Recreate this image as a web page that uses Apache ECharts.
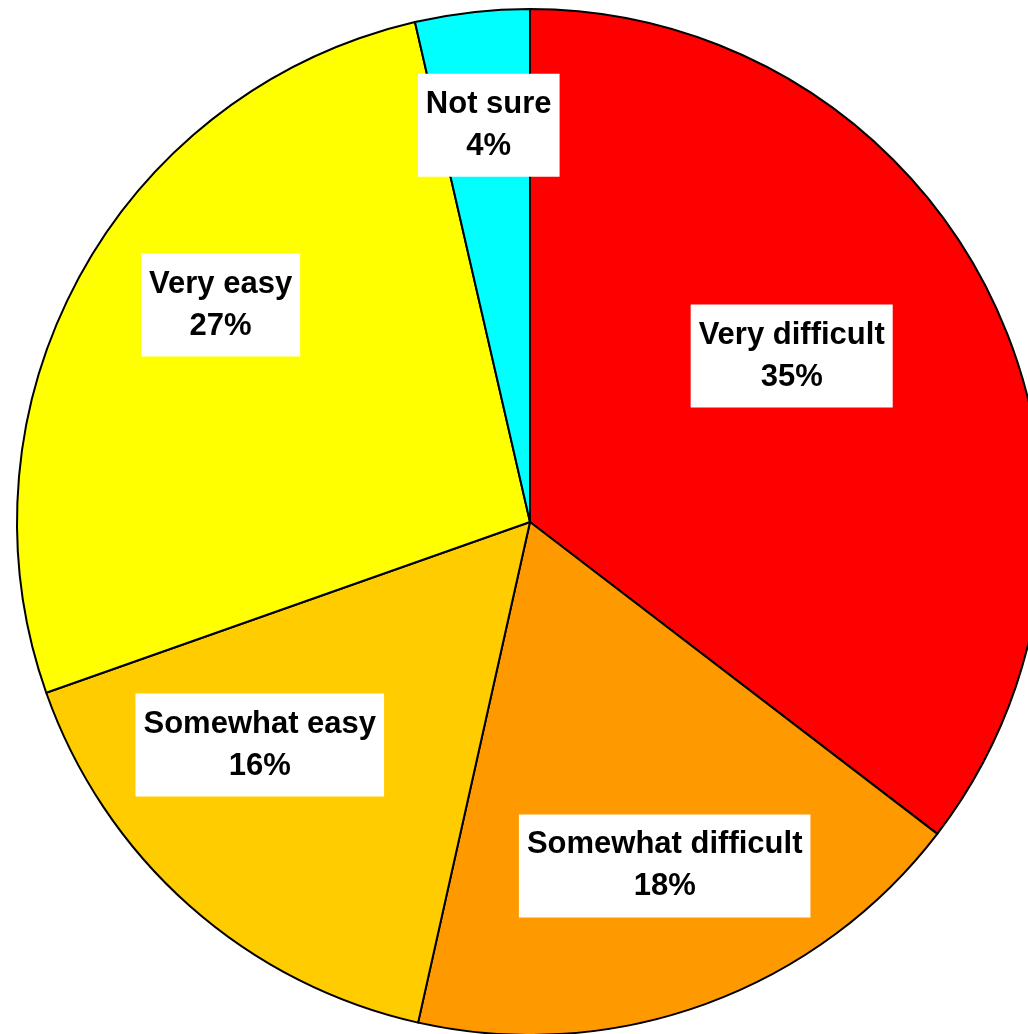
<!DOCTYPE html>
<html>
<head>
<meta charset="utf-8">
<script src="https://cdn.jsdelivr.net/npm/echarts@6/dist/echarts.min.js"></script>
<style>
    html, body { margin: 0; padding: 0; background: #fff; }
    #chart { width: 1028px; height: 1034px; }
</style>
</head>
<body>
<div id="chart"></div>
<script type="text/javascript">
    // answers, clockwise from 12 o'clock
    var categories = ['Very difficult', 'Somewhat difficult', 'Somewhat easy', 'Very easy', 'Not sure'];
    var shares = [35.4, 18.1, 16.1, 26.8, 3.6];
    var colors = ['#ff0000', '#ff9900', '#ffcc00', '#ffff00', '#00ffff'];

    // nudges of the label boxes away from the default inside spot (px)
    var labelShift = [[29, -51], [46, 100], [-98, 29], [-82, -92], [-12, -139]];

    var chart = echarts.init(document.getElementById('chart'), null, { renderer: 'canvas' });

    var pieData = categories.map(function (name, i) {
        return { name: name, value: shares[i], itemStyle: { color: colors[i] } };
    });

    chart.setOption({
        animation: false,
        backgroundColor: '#ffffff',
        series: [{
            type: 'pie',
            center: [530, 522],
            radius: [0, 513],
            startAngle: 90,
            clockwise: true,
            avoidLabelOverlap: false,
            emphasis: { disabled: true },
            itemStyle: { borderColor: '#000', borderWidth: 2 },
            label: {
                show: true,
                position: 'inside',
                formatter: function (p) {
                    return p.name + '\n' + Math.round(p.value) + '%';
                },
                color: '#000',
                fontFamily: 'Liberation Sans, Arial, sans-serif',
                fontWeight: 'bold',
                fontSize: 31,
                lineHeight: 42,
                align: 'center',
                backgroundColor: '#ffffff',
                padding: [10, 8, 9, 8]
            },
            labelLine: { show: false },
            labelLayout: function (p) {
                var s = labelShift[p.dataIndex];
                return { dx: s[0], dy: s[1] };
            },
            data: pieData
        }]
    });
</script>
</body>
</html>
